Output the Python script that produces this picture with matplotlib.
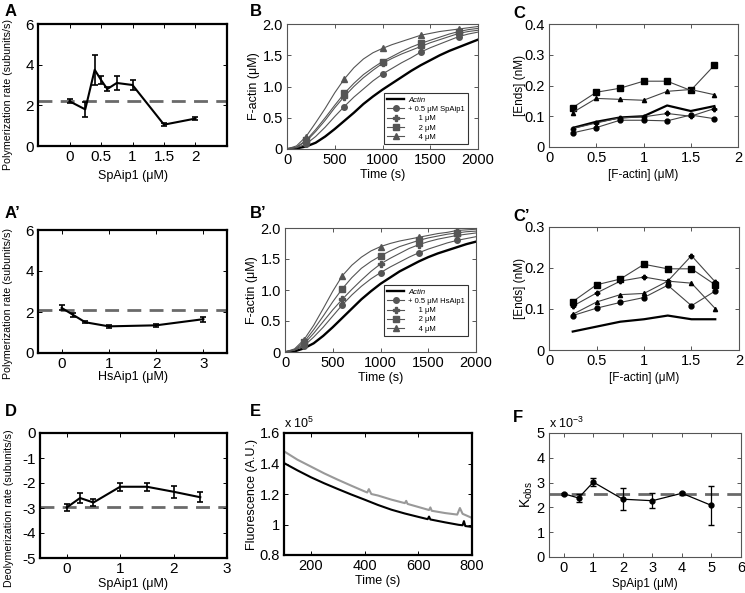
import matplotlib.pyplot as plt

plt.rcParams['font.family'] = ['Liberation Sans', 'DejaVu Sans']
plt.rcParams['mathtext.fontset'] = 'custom'
plt.rcParams['mathtext.rm'] = 'Liberation Sans'

# A: polymerization rate vs SpAip1
a_conc = [0, 0.25, 0.4, 0.5, 0.6, 0.75, 1.0, 1.5, 2.0]
a_rate = [2.2, 1.8, 3.75, 3.25, 2.8, 3.1, 3.0, 1.05, 1.35]
a_err = [0.1, 0.35, 0.75, 0.2, 0.1, 0.35, 0.25, 0.08, 0.08]
a_base = 2.2

# A': polymerization rate vs HsAip1
a2_conc = [0, 0.25, 0.5, 1, 2, 3]
a2_rate = [2.2, 1.85, 1.5, 1.3, 1.35, 1.65]
a2_err = [0.12, 0.1, 0.05, 0.07, 0.08, 0.12]
a2_base = 2.1

# D: depolymerization rate vs SpAip1
d_conc = [0, 0.25, 0.5, 1, 1.5, 2, 2.5]
d_rate = [-2.98, -2.6, -2.78, -2.15, -2.15, -2.35, -2.57]
d_err = [0.15, 0.2, 0.15, 0.15, 0.15, 0.25, 0.2]
d_base = -2.95

# F: k_obs vs SpAip1 (x 1e-3)
f_conc = [0, 0.5, 1, 2, 3, 4, 5]
f_k = [2.55, 2.38, 3.02, 2.33, 2.27, 2.57, 2.08]
f_err = [0.05, 0.18, 0.15, 0.45, 0.3, 0.05, 0.78]
f_base = 2.55

# B / B': polymerization time courses (uM F-actin)
b_time = list(range(0, 2001, 100))
b_actin = [0, 0.01, 0.04, 0.1, 0.2, 0.32, 0.45, 0.58, 0.72, 0.84, 0.95, 1.05,
           1.15, 1.25, 1.34, 1.42, 1.5, 1.57, 1.63, 1.69, 1.75]
b_sp05 = [0, 0.02, 0.08, 0.2, 0.35, 0.52, 0.68, 0.83, 0.96, 1.09, 1.2, 1.29,
          1.38, 1.46, 1.55, 1.62, 1.68, 1.74, 1.8, 1.84, 1.87]
b_sp1 = [0, 0.03, 0.12, 0.28, 0.46, 0.66, 0.84, 1.0, 1.14, 1.26, 1.37, 1.45,
         1.52, 1.58, 1.64, 1.7, 1.75, 1.8, 1.85, 1.88, 1.9]
b_sp2 = [0, 0.03, 0.14, 0.31, 0.5, 0.7, 0.89, 1.05, 1.19, 1.3, 1.4, 1.48,
         1.56, 1.63, 1.69, 1.74, 1.79, 1.84, 1.88, 1.91, 1.93]
b_sp4 = [0, 0.05, 0.2, 0.42, 0.65, 0.9, 1.12, 1.3, 1.44, 1.54, 1.61, 1.67,
         1.72, 1.77, 1.82, 1.85, 1.88, 1.9, 1.92, 1.94, 1.96]
b_sp_labels = ['+ 0.5 \u03bcM SpAip1', '     1 \u03bcM', '     2 \u03bcM', '     4 \u03bcM']

b2_actin = [0, 0.01, 0.06, 0.14, 0.26, 0.4, 0.55, 0.7, 0.85, 0.98, 1.1, 1.2,
            1.3, 1.38, 1.46, 1.53, 1.59, 1.64, 1.69, 1.74, 1.78]
b2_hs05 = [0, 0.03, 0.1, 0.24, 0.4, 0.58, 0.76, 0.92, 1.06, 1.18, 1.28, 1.37,
           1.45, 1.53, 1.6, 1.66, 1.71, 1.76, 1.8, 1.83, 1.86]
b2_hs1 = [0, 0.03, 0.13, 0.3, 0.49, 0.68, 0.85, 1.01, 1.16, 1.3, 1.42, 1.51,
          1.59, 1.67, 1.73, 1.78, 1.82, 1.85, 1.88, 1.9, 1.92]
b2_hs2 = [0, 0.04, 0.16, 0.36, 0.58, 0.81, 1.02, 1.2, 1.35, 1.46, 1.55, 1.63,
          1.7, 1.75, 1.8, 1.84, 1.87, 1.9, 1.92, 1.94, 1.95]
b2_hs4 = [0, 0.05, 0.2, 0.43, 0.7, 0.98, 1.23, 1.4, 1.53, 1.63, 1.7, 1.75,
          1.79, 1.82, 1.85, 1.88, 1.91, 1.93, 1.96, 1.97, 1.98]
b2_hs_labels = ['+ 0.5 \u03bcM HsAip1', '     1 \u03bcM', '     2 \u03bcM', '     4 \u03bcM']

# C / C': ends vs F-actin
c_factin = [0.25, 0.5, 0.75, 1.0, 1.25, 1.5, 1.75]
c_actin = [0.062, 0.082, 0.096, 0.1, 0.135, 0.117, 0.133]
c_circle = [0.046, 0.063, 0.087, 0.087, 0.085, 0.104, 0.092]
c_plus = [0.06, 0.078, 0.095, 0.098, 0.109, 0.1, 0.125]
c_square = [0.128, 0.178, 0.191, 0.214, 0.214, 0.184, 0.266]
c_tri = [0.112, 0.158, 0.155, 0.152, 0.181, 0.187, 0.17]

c2_actin = [0.045, 0.057, 0.069, 0.075, 0.084, 0.075, 0.075]
c2_circle = [0.084, 0.102, 0.116, 0.128, 0.158, 0.108, 0.144]
c2_plus = [0.107, 0.139, 0.168, 0.178, 0.168, 0.23, 0.166]
c2_square = [0.118, 0.159, 0.173, 0.209, 0.198, 0.198, 0.159]
c2_tri = [0.087, 0.117, 0.135, 0.138, 0.168, 0.163, 0.101]

# E: fluorescence decay (x 1e5), gray and black traces
e_gray_t = [100, 150, 200, 250, 300, 350, 400, 410, 416, 425, 450, 500, 550,
            555, 560, 600, 640, 645, 650, 700, 745, 755, 765, 800]
e_gray = [1.48, 1.425, 1.38, 1.335, 1.294, 1.255, 1.217, 1.21, 1.232, 1.2,
          1.19, 1.163, 1.14, 1.155, 1.135, 1.115, 1.095, 1.112, 1.09, 1.075,
          1.065, 1.108, 1.07, 1.043]
e_black_t = [100, 150, 200, 250, 300, 350, 400, 450, 500, 550, 600, 635, 640,
             645, 700, 750, 765, 770, 775, 800]
e_black = [1.403, 1.355, 1.31, 1.27, 1.233, 1.197, 1.163, 1.128, 1.097, 1.072,
           1.05, 1.035, 1.052, 1.033, 1.014, 0.998, 0.995, 1.022, 0.99, 0.984]

W, H = 745, 593
fig = plt.figure(figsize=(W / 100, H / 100), dpi=100)


def add_ax(x0, y0, x1, y1):
    return fig.add_axes([x0 / W, 1 - y1 / H, (x1 - x0) / W, (y1 - y0) / H])


def style(ax, bold=True, size=10.5):
    col = 'black' if bold else '#555555'
    for s in ax.spines.values():
        s.set_linewidth(1.6 if bold else 0.8)
        s.set_color(col)
    ax.tick_params(direction='in', top=True, right=True, length=3,
                   width=0.7, color=col, labelsize=size, pad=3)


def rate_panel(ax, x, y, err, base):
    ax.axhline(base, color='#6a6a6a', lw=2, dashes=(5, 3), zorder=1)
    ax.errorbar(x, y, yerr=err, color='black', lw=1.5, elinewidth=1.2,
                capsize=2.5, capthick=1.2, zorder=3)


def curve_panel(ax, actin, series, labels, anchor):
    ax.plot(b_time, actin, color='black', lw=1.7, label='Actin')
    for vals, m, lab in zip(series, ['o', 'P', 's', '^'], labels):
        ax.plot(b_time, vals, color='#555555', lw=0.8, marker=m,
                markevery=[2, 6, 10, 14, 18], ms=4, label=lab)
    ax.set_xlim(0, 2000)
    ax.set_ylim(0, 2.0)
    ax.set_xticks([0, 500, 1000, 1500, 2000])
    ax.set_yticks([0, 0.5, 1.0, 1.5, 2.0])
    ax.set_yticklabels(['0', '0.5', '1.0', '1.5', '2.0'])
    ax.set_xlabel('Time (s)', fontsize=9, labelpad=1)
    ax.set_ylabel('F-actin (\u03bcM)', fontsize=9)
    ax.yaxis.set_label_coords(-0.14, 0.5)
    leg = ax.legend(loc='lower left', bbox_to_anchor=anchor, fontsize=5.5,
                    frameon=True, fancybox=False, edgecolor='black',
                    handlelength=2.2, labelspacing=0.25, borderpad=0.4,
                    handletextpad=0.5)
    leg.get_frame().set_linewidth(0.8)
    leg.get_texts()[0].set_style('italic')


def ends_panel(ax, actin, circ, plus, sq, tri, ymax):
    ax.plot(c_factin, actin, color='black', lw=1.6)
    for vals, m, ms in zip([circ, plus, sq, tri], ['o', 'P', 's', '^'], [3.5, 3.2, 4, 3]):
        ax.plot(c_factin, vals, color='#444444', lw=0.8, marker=m, ms=ms,
                mfc='black', mec='black')
    ax.set_xlim(0, 2)
    ax.set_ylim(0, ymax)
    ax.set_xticks([0, 0.5, 1, 1.5, 2])
    ax.set_xticklabels(['0', '0.5', '1', '1.5', '2'])
    yt = [0, 0.1, 0.2, 0.3, 0.4][:int(round(ymax * 10)) + 1]
    ax.set_yticks(yt)
    ax.set_yticklabels(['0'] + ['%.1f' % v for v in yt[1:]])
    ax.set_xlabel('[F-actin] (\u03bcM)', fontsize=8.5, labelpad=3)
    ax.set_ylabel('[Ends] (nM)', fontsize=8.5)
    ax.yaxis.set_label_coords(-0.12, 0.5)


# ---- A
ax = add_ax(38, 24, 227, 146)
rate_panel(ax, a_conc, a_rate, a_err, a_base)
ax.set_xlim(-0.5, 2.5)
ax.set_ylim(0, 6)
ax.set_xticks([0, 0.5, 1, 1.5, 2])
ax.set_xticklabels(['0', '0.5', '1', '1.5', '2'])
ax.set_yticks([0, 2, 4, 6])
ax.set_xlabel('SpAip1 (\u03bcM)', fontsize=9, labelpad=4)
ax.set_ylabel('Polymerization rate (subunits/s)', fontsize=7.7)
ax.yaxis.set_label_coords(-0.13, 0.42)
style(ax, size=11)

# ---- A'
ax = add_ax(38, 230, 227, 353)
rate_panel(ax, a2_conc, a2_rate, a2_err, a2_base)
ax.set_xlim(-0.5, 3.5)
ax.set_ylim(0, 6)
ax.set_xticks([0, 1, 2, 3])
ax.set_yticks([0, 2, 4, 6])
ax.set_xlabel('HsAip1 (\u03bcM)', fontsize=9, labelpad=0)
ax.set_ylabel('Polymerization rate (subunits/s)', fontsize=7.7)
ax.yaxis.set_label_coords(-0.13, 0.4)
style(ax, size=11)

# ---- D
ax = add_ax(40, 433, 227, 558)
rate_panel(ax, d_conc, d_rate, d_err, d_base)
ax.set_xlim(-0.5, 3)
ax.set_ylim(-5, 0)
ax.set_xticks([0, 1, 2, 3])
ax.set_yticks([0, -1, -2, -3, -4, -5])
ax.set_yticklabels(['0', '-1', '-2', '-3', '-4', '-5'])
ax.set_xlabel('SpAip1 (\u03bcM)', fontsize=9, labelpad=1)
ax.set_ylabel('Deolymerization rate (subunits/s)', fontsize=7.7)
ax.yaxis.set_label_coords(-0.14, 0.4)
style(ax, size=11)

# ---- B
ax = add_ax(287, 24, 478, 149)
curve_panel(ax, b_actin, [b_sp05, b_sp1, b_sp2, b_sp4], b_sp_labels, (0.49, 0.01))
style(ax, bold=False)

# ---- B'
ax = add_ax(285, 228, 476, 352)
curve_panel(ax, b2_actin, [b2_hs05, b2_hs1, b2_hs2, b2_hs4], b2_hs_labels, (0.5, 0.1))
style(ax, bold=False)

# ---- C
ax = add_ax(549, 24, 738, 147)
ends_panel(ax, c_actin, c_circle, c_plus, c_square, c_tri, 0.4)
style(ax, bold=False)

# ---- C'
ax = add_ax(549, 227, 739, 350)
ends_panel(ax, c2_actin, c2_circle, c2_plus, c2_square, c2_tri, 0.3)
style(ax, bold=False)

# ---- E
ax = add_ax(284, 433, 472, 555)
ax.plot(e_gray_t, e_gray, color='#999999', lw=1.5)
ax.plot(e_black_t, e_black, color='black', lw=1.5)
ax.set_xlim(100, 800)
ax.set_ylim(0.8, 1.6)
ax.set_xticks([200, 400, 600, 800])
ax.set_yticks([0.8, 1.0, 1.2, 1.4, 1.6])
ax.set_yticklabels(['0.8', '1', '1.2', '1.4', '1.6'])
ax.set_xlabel('Time (s)', fontsize=9, labelpad=1)
ax.set_ylabel('Fluorescence (A.U.)', fontsize=9)
ax.yaxis.set_label_coords(-0.14, 0.5)
ax.text(0.0, 1.02, 'x 10$^5$', transform=ax.transAxes, fontsize=9, va='bottom')
style(ax)

# ---- F
ax = add_ax(549, 433, 741, 557)
ax.axhline(f_base, color='#6a6a6a', lw=2, dashes=(5, 3), zorder=1)
ax.errorbar(f_conc, f_k, yerr=f_err, color='black', lw=0.9, elinewidth=0.9,
            capsize=2.5, marker='o', ms=3.5, zorder=3)
ax.set_xlim(-0.5, 6)
ax.set_ylim(0, 5)
ax.set_xticks([0, 1, 2, 3, 4, 5, 6])
ax.set_yticks([0, 1, 2, 3, 4, 5])
ax.set_xlabel('SpAip1 (\u03bcM)', fontsize=8.5, labelpad=2)
ax.set_ylabel('K$_{\\mathrm{obs}}$', fontsize=10)
ax.yaxis.set_label_coords(-0.075, 0.5)
ax.text(0.0, 1.02, 'x 10$^{-3}$', transform=ax.transAxes, fontsize=9, va='bottom')
style(ax, bold=False)

# panel letters
for lab, x, y in [('A', 5, 4), ('B', 250, 4), ('C', 513, 6),
                  ('A\u2019', 5, 206), ('B\u2019', 250, 206), ('C\u2019', 513, 209),
                  ('D', 5, 404), ('E', 250, 404), ('F', 513, 410)]:
    fig.text(x / W, 1 - y / H, lab, fontsize=12, fontweight='bold', va='top')

fig.savefig('out.png', dpi=100)
